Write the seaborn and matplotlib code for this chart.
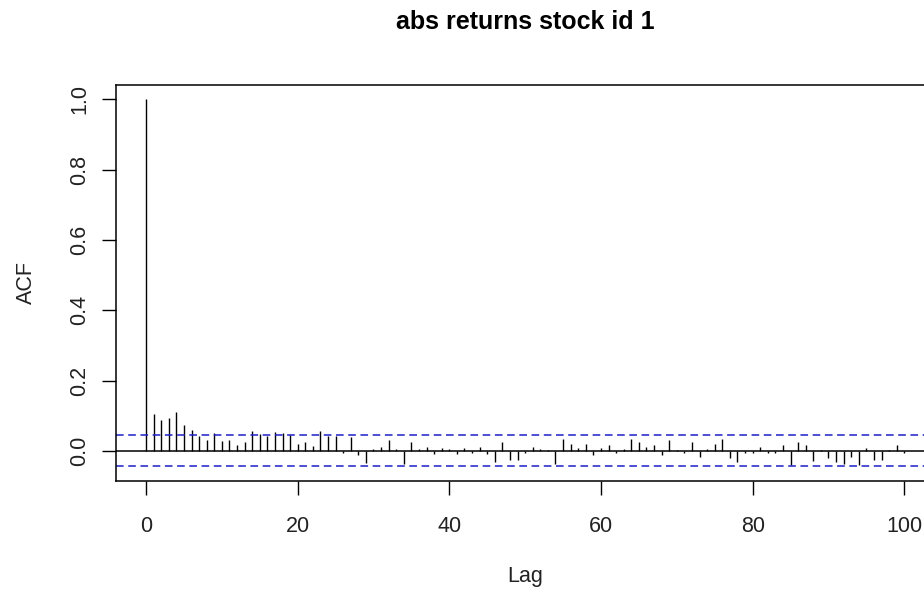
import numpy as np
import pandas as pd
import matplotlib
matplotlib.use("Agg")
import matplotlib.pyplot as plt
import seaborn as sns

# sample ACF of abs returns
lags = np.arange(0, 101)
acf_values = [
    1.000, 0.104, 0.088, 0.093, 0.111, 0.074, 0.059, 0.043, 0.030, 0.052,
    0.028, 0.030, 0.016, 0.024, 0.057, 0.049, 0.042, 0.055, 0.052, 0.045,
    0.020, 0.025, 0.015, 0.057, 0.042, 0.043, -0.005, 0.040, -0.012, -0.035,
    0.005, 0.012, 0.030, 0.005, -0.038, 0.024, 0.005, 0.010, -0.010, 0.007,
    0.005, -0.009, 0.007, -0.007, 0.012, -0.009, -0.033, 0.024, -0.026, -0.025,
    -0.007, 0.011, 0.005, 0.002, -0.038, 0.035, 0.019, 0.009, 0.019, -0.011,
    0.008, 0.016, -0.005, 0.005, 0.033, 0.024, 0.012, 0.017, -0.011, 0.030,
    0.003, -0.005, 0.024, -0.017, 0.005, 0.019, 0.035, -0.021, -0.033, -0.005,
    -0.005, 0.012, -0.007, -0.007, 0.016, -0.040, 0.024, 0.016, -0.030, 0.003,
    -0.019, -0.033, -0.036, -0.017, -0.040, 0.008, -0.025, -0.025, 0.003, 0.016,
    -0.007,
]
conf_limit = 0.044

x_ticks = [0, 20, 40, 60, 80, 100]
y_ticks = [0.0, 0.2, 0.4, 0.6, 0.8, 1.0]
y_tick_labels = ["0.0", "0.2", "0.4", "0.6", "0.8", "1.0"]

df = pd.DataFrame({"Lag": lags, "ACF": acf_values})

sns.set_theme(style="white")
plt.rcParams.update({
    "font.family": ["Liberation Sans", "DejaVu Sans"],
    "axes.edgecolor": "black",
    "axes.linewidth": 1.1,
    "xtick.color": "black",
    "ytick.color": "black",
    "xtick.labelcolor": "#222222",
    "ytick.labelcolor": "#222222",
    "text.color": "#222222",
    "axes.labelcolor": "#222222",
})

fig = plt.figure(figsize=(9.24, 5.94), dpi=100)
# axes run past the right edge, as in the cropped original
ax = fig.add_axes([0.1252, 0.1902, 0.8863, 0.6675])

ax.vlines(df["Lag"], 0, df["ACF"], color="black", linewidth=1.0)
ax.axhline(0, color="black", linewidth=1.1)
for c in (conf_limit, -conf_limit):
    ax.axhline(c, color="#1e1ec8", linewidth=1.1, linestyle=(0, (5, 3)))

ax.set_xlim(-4, 104)
ax.set_ylim(-0.0858, 1.0418)

ax.set_xticks(x_ticks)
ax.set_yticks(y_ticks)
ax.set_yticklabels(y_tick_labels, rotation=90, va="center")
ax.tick_params(axis="both", direction="out", length=10, width=1.0,
               labelsize=15.5, bottom=True, left=True)
ax.tick_params(axis="x", pad=15)
ax.tick_params(axis="y", pad=8.5)

for s in ax.spines.values():
    s.set_color("black")
    s.set_linewidth(1.1)

ax.set_xlabel("Lag", fontsize=15.5, va="baseline")
ax.xaxis.set_label_coords(0.5, -0.2547)
ax.set_ylabel("ACF", fontsize=15.5, va="baseline")
ax.yaxis.set_label_coords(-0.1022, 0.5)

ax.set_title("abs returns stock id 1", fontsize=18, fontweight="bold",
             color="black", y=1.1412, va="baseline", pad=0)

fig.savefig("out.png", dpi=100)
